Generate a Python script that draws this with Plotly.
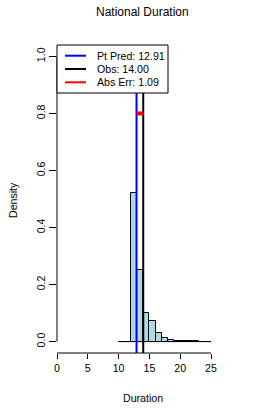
import plotly.graph_objects as go

# ---- data ----
bin_left = [10, 11, 12, 13, 14, 15, 16, 17, 18, 19, 20, 21, 22, 23, 24]
density = [0.0, 0.0, 0.522, 0.252, 0.102, 0.071, 0.030, 0.011, 0.005, 0.003, 0.002, 0.001, 0.0005, 0.0003, 0.0002]
pt_pred = 12.91
obs = 14.00
abs_err = 1.09
x_ticks = [0, 5, 10, 15, 20, 25]
y_ticks = [0.0, 0.2, 0.4, 0.6, 0.8, 1.0]
y_tick_text = ["0.0", "0.2", "0.4", "0.6", "0.8", "1.0"]
legend_labels = [f"Pt Pred: {pt_pred:.2f}", f"Obs: {obs:.2f}", f"Abs Err: {abs_err:.2f}"]
legend_colors = ["blue", "black", "red"]

W, H = 274, 411
# plot area in page pixels
PL, PR, PT, PB = 57, 228, 45, 353
L, R, T, B = PL, W - PR, PT, H - PB
PW, PH = PR - PL, PB - PT
XR = [0, PW / 6.16]
YR = [-0.04, 1.04]
FONT = "Liberation Sans, Arial, Helvetica, sans-serif"

def xp(d):
    return (d - XR[0]) / (XR[1] - XR[0])

def yp(v):
    return (v - YR[0]) / (YR[1] - YR[0])

def pxp(px):  # pixel x -> paper
    return (px - PL) / PW

def pyp(py):  # pixel y -> paper
    return (PB - py) / PH

fig = go.Figure()

# histogram bars
fig.add_trace(go.Bar(
    x=[b + 0.5 for b in bin_left], y=density, width=[1] * len(bin_left),
    marker=dict(color="#ADD8E6", line=dict(color="black", width=1)),
    showlegend=False, hoverinfo="skip"))
# baseline of histogram
fig.add_trace(go.Scatter(x=[bin_left[0], bin_left[-1] + 1], y=[0, 0], mode="lines",
                         line=dict(color="black", width=1), showlegend=False, hoverinfo="skip"))
# vertical lines
fig.add_trace(go.Scatter(x=[pt_pred, pt_pred], y=YR, mode="lines",
                         line=dict(color="blue", width=2), showlegend=False))
fig.add_trace(go.Scatter(x=[obs, obs], y=YR, mode="lines",
                         line=dict(color="black", width=2), showlegend=False))
# absolute error segment
fig.add_trace(go.Scatter(x=[pt_pred, obs], y=[0.8, 0.8], mode="lines",
                         line=dict(color="red", width=4), showlegend=False))

shapes = []
# axis lines (span first to last tick, like R)
shapes.append(dict(type="line", xref="paper", yref="paper",
                   x0=xp(x_ticks[0]), x1=xp(x_ticks[-1]), y0=0, y1=0,
                   line=dict(color="black", width=1)))
shapes.append(dict(type="line", xref="paper", yref="paper",
                   x0=0, x1=0, y0=yp(y_ticks[0]), y1=yp(y_ticks[-1]),
                   line=dict(color="black", width=1)))
# legend box
shapes.append(dict(type="rect", xref="paper", yref="paper",
                   x0=pxp(57), x1=pxp(168), y0=pyp(93), y1=pyp(45),
                   fillcolor="white", line=dict(color="black", width=1), layer="above"))
annotations = []
for i, (lab, col) in enumerate(zip(legend_labels, legend_colors)):
    ypix = 55.7 + i * 13.3
    shapes.append(dict(type="line", xref="paper", yref="paper",
                       x0=pxp(65), x1=pxp(86), y0=pyp(ypix), y1=pyp(ypix),
                       line=dict(color=col, width=2), layer="above"))
    annotations.append(dict(text=lab, xref="paper", yref="paper", x=pxp(95), y=pyp(ypix),
                            xanchor="left", yanchor="middle", showarrow=False,
                            font=dict(family=FONT, size=10.6, color="black")))

# title and axis titles
annotations.append(dict(text="National Duration", xref="paper", yref="paper",
                        x=pxp(142), y=pyp(12), xanchor="center", yanchor="middle",
                        showarrow=False, font=dict(family=FONT, size=12, color="black")))
annotations.append(dict(text="Duration", xref="paper", yref="paper",
                        x=pxp(143), y=pyp(398), xanchor="center", yanchor="middle",
                        showarrow=False, font=dict(family=FONT, size=10.6, color="black")))
annotations.append(dict(text="Density", xref="paper", yref="paper",
                        x=pxp(13), y=pyp(200), xanchor="center", yanchor="middle", textangle=-90,
                        showarrow=False, font=dict(family=FONT, size=10.6, color="black")))

fig.update_layout(
    width=W, height=H, margin=dict(l=L, r=R, t=T, b=B),
    paper_bgcolor="white", plot_bgcolor="white",
    showlegend=False, bargap=0, shapes=shapes, annotations=annotations,
    font=dict(family=FONT, size=10.6, color="black"),
)
fig.update_xaxes(range=XR, showgrid=False, zeroline=False, showline=False,
                 tickmode="array", tickvals=x_ticks, ticktext=[str(v) for v in x_ticks],
                 ticks="outside", ticklen=5, tickcolor="black", tickwidth=1,
                 tickfont=dict(family=FONT, size=10.6, color="black"))
fig.update_yaxes(range=YR, showgrid=False, zeroline=False, showline=False,
                 tickmode="array", tickvals=y_ticks, ticktext=y_tick_text,
                 ticks="outside", ticklen=7, tickcolor="black", tickwidth=1, tickangle=-90,
                 tickfont=dict(family=FONT, size=10.6, color="black"))

# remove the default 8px page margin so the figure fills the window exactly
fig.write_html("out.html", config={"displayModeBar": False},
               post_script="document.body.style.margin='0';document.body.style.overflow='hidden';")
